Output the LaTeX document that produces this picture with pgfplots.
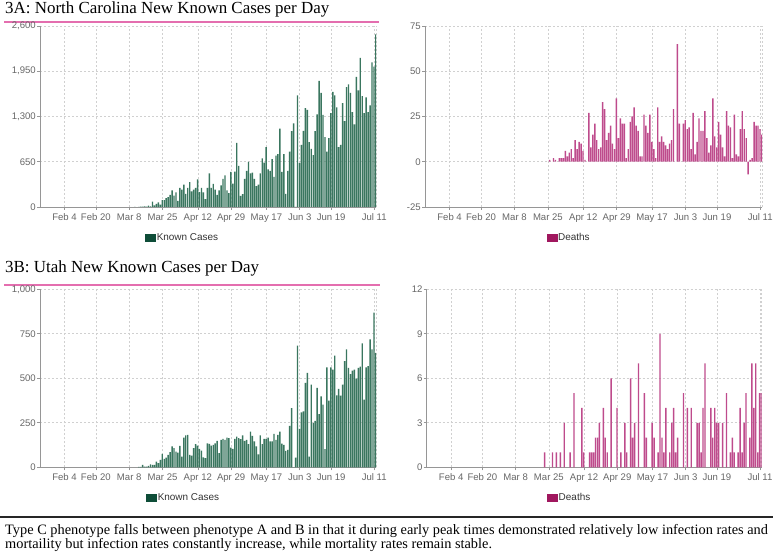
\documentclass[border=0pt]{standalone}
\usepackage{pgfplots}
\pgfplotsset{compat=1.18}
\usepackage{fontspec}
\setmainfont{Liberation Serif}
\setsansfont{Liberation Sans}
\definecolor{casebar}{RGB}{58,118,95}
\definecolor{caseleg}{RGB}{14,77,56}
\definecolor{deathbar}{RGB}{190,75,140}
\definecolor{deathleg}{RGB}{160,23,94}
\definecolor{pinkline}{RGB}{228,110,175}
\definecolor{tickgray}{RGB}{102,102,102}
\definecolor{gridgray}{RGB}{208,208,208}
\definecolor{axgray}{RGB}{150,150,150}

\pgfplotsset{
  panel/.style={
    scale only axis,
    ybar, bar width=0.72,
    enlargelimits=false,
    xmin=0.5, xmax=171.9,
    xtick={13,29,46,63,81,98,116,133,149,171},
    xticklabels={Feb 4,Feb 20,Mar 8,Mar 25,Apr 12,Apr 29,May 17,Jun 3,Jun 19,Jul 11},
    axis x line*=bottom, axis y line*=left,
    axis line style={-, draw=axgray, line width=0.8bp},
    tick pos=left, tick align=outside,
    major tick length=3bp,
    tick style={draw=axgray, line width=0.6bp},
    grid=major,
    grid style={draw=gridgray, dash pattern=on 2bp off 2bp, line width=0.6bp},
    ticklabel style={font=\sffamily\fontsize{9.6}{10}\selectfont, text=tickgray},
    yticklabel style={inner xsep=1bp},
    extra x ticks={171.9}, extra x tick labels={},
    extra x tick style={major tick length=0pt, grid=major},
    legend style={draw=none, fill=none, inner sep=0pt, anchor=center,
      font=\sffamily\fontsize{10}{11}\selectfont, text=black!80,
      nodes={inner sep=1.2bp}},
  },
  caseleg/.style={legend image code/.code={\fill[caseleg] (0bp,-3.5bp) rectangle (10bp,3.5bp);}},
  deathleg/.style={legend image code/.code={\fill[deathleg] (0bp,-3.5bp) rectangle (10bp,3.5bp);}},
}

\begin{document}
\begin{tikzpicture}[x=1bp,y=1bp]
\coordinate (PA) at (40,345);
\coordinate (PB) at (425,345);
\coordinate (PC) at (40,84.7);
\coordinate (PD) at (426.7,84.7);

% ---------- titles ----------
\node[anchor=base west, inner sep=0, font=\fontsize{17}{18}\selectfont] at (5,538.7) {3A: North Carolina New Known Cases per Day};
\fill[pinkline] (4,529.3) rectangle (379,531.3);
\node[anchor=base west, inner sep=0, font=\fontsize{17}{18}\selectfont] at (5,279.3) {3B: Utah New Known Cases per Day};
\fill[pinkline] (4,266) rectangle (380,268);

% ---------- 3A cases ----------
\begin{axis}[panel, at={(PA)}, anchor=south west, width=336bp, height=181bp,
  ymin=0, ymax=2600, ytick={0,650,1300,1950,2600},
  yticklabels={0,650,{1,300},{1,950},{2,600}},
  legend style={at={(0.4235,-0.1674)}}]
\addplot[fill=casebar, draw=none, forget plot] coordinates {
(48,1)(50,2)(51,5)(52,7)(53,10)(54,5)(55,20)(56,10)(57,78)(58,24)(59,44)(60,68)(61,34)(62,100)(63,100)(64,127)(65,140)(66,175)(67,240)(68,165)(69,210)(70,88)(71,273)(72,250)(73,322)(74,190)(75,273)(76,356)(77,224)(78,250)(79,273)(80,395)(81,215)(82,273)(83,210)(84,112)(85,273)(86,483)(87,273)(88,332)(89,250)(90,175)(91,240)(92,312)(93,405)(94,454)(95,240)(96,200)(97,503)(98,337)(99,507)(100,922)(101,590)(102,161)(103,185)(104,405)(105,517)(106,649)(107,483)(108,493)(109,405)(110,298)(111,322)(112,483)(113,698)(114,639)(115,859)(116,542)(117,517)(118,688)(119,434)(120,737)(121,761)(122,1127)(123,503)(124,761)(125,190)(126,517)(127,795)(128,1088)(129,1200)(130,0)(131,1605)(132,630)(133,893)(134,1093)(135,1420)(136,1396)(137,932)(138,834)(139,746)(140,1088)(141,1332)(142,1810)(143,1640)(144,1322)(145,1005)(146,795)(147,990)(148,1347)(149,1654)(150,1605)(151,1430)(152,859)(153,893)(154,1493)(155,1235)(156,1723)(157,1760)(158,1640)(159,1362)(160,1186)(161,1869)(162,1674)(163,2142)(164,1591)(165,1347)(166,1576)(167,1362)(168,1459)(169,2079)(170,2015)(171,2480)
};
\addlegendimage{caseleg}
\addlegendentry{Known Cases}
\end{axis}

% ---------- 3A deaths ----------
\begin{axis}[panel, at={(PB)}, anchor=south west, width=337bp, height=181bp,
  ymin=-25, ymax=75, ytick={-25,0,25,50,75},
  yticklabels={-25,0,25,50,75},
  legend style={at={(0.4264,-0.1674)}}]
\addplot[fill=deathbar, draw=none, forget plot] coordinates {
(63,1)(65,2)(66,1)(68,2)(69,2)(70,2)(71,6)(72,3)(73,5)(74,7)(75,2)(76,12)(77,7)(78,11)(79,10)(80,6)(81,1)(83,27)(84,8)(85,15)(86,21)(87,12)(88,7)(89,8)(90,33)(91,29)(92,12)(93,16)(94,20)(95,10)(96,7)(97,35)(98,13)(99,24)(100,21)(101,21)(102,2)(103,7)(104,22)(105,25)(106,30)(107,20)(108,17)(109,3)(110,3)(111,26)(112,20)(113,16)(114,26)(115,11)(116,7)(117,2)(118,30)(119,11)(120,14)(121,11)(122,9)(123,7)(124,10)(125,12)(126,29)(128,65)(129,21)(131,21)(132,23)(133,18)(134,19)(135,7)(136,27)(137,4)(138,11)(139,24)(140,17)(141,17)(142,28)(143,13)(144,5)(145,9)(146,35)(147,14)(148,8)(149,22)(150,15)(151,8)(152,3)(153,28)(154,20)(155,19)(156,2)(157,26)(158,4)(159,3)(160,18)(161,28)(162,18)(163,13)(164,-7)(165,1)(166,2)(167,22)(168,20)(169,20)(170,18)(171,15)
};
\addlegendimage{deathleg}
\addlegendentry{Deaths}
\end{axis}

% ---------- 3B cases ----------
\begin{axis}[panel, at={(PC)}, anchor=south west, width=336bp, height=178bp,
  ymin=0, ymax=1000, ytick={0,250,500,750,1000},
  yticklabels={0,250,500,750,{1,000}},
  legend style={at={(0.4265,-0.1685)}}]
\addplot[fill=casebar, draw=none, forget plot] coordinates {
(50,2)(51,3)(52,13)(53,4)(54,4)(55,8)(56,17)(57,13)(58,13)(59,32)(60,23)(61,41)(62,75)(63,47)(64,55)(65,70)(66,85)(67,117)(68,107)(69,88)(70,83)(71,120)(72,60)(73,167)(74,179)(75,182)(76,70)(77,66)(78,107)(79,130)(80,122)(81,103)(82,94)(83,56)(84,51)(85,135)(86,132)(87,122)(88,126)(89,135)(90,149)(91,79)(92,154)(93,160)(94,154)(95,167)(96,164)(97,111)(98,103)(99,160)(100,173)(101,164)(102,158)(103,179)(104,149)(105,154)(106,130)(107,201)(108,177)(109,145)(110,117)(111,73)(112,179)(113,130)(114,160)(115,160)(116,167)(117,145)(118,145)(119,188)(120,154)(121,182)(122,201)(123,133)(124,126)(125,92)(126,98)(127,233)(128,333)(129,0)(130,55)(131,684)(132,216)(133,308)(134,314)(135,474)(136,530)(137,60)(138,464)(139,248)(140,261)(141,446)(142,299)(143,399)(144,352)(145,102)(146,562)(147,374)(148,562)(149,549)(150,628)(151,404)(152,440)(153,402)(154,464)(155,596)(156,662)(157,558)(158,524)(159,543)(160,549)(161,498)(162,558)(163,566)(164,696)(165,380)(166,562)(167,568)(168,718)(169,662)(170,869)(171,643)
};
\addlegendimage{caseleg}
\addlegendentry{Known Cases}
\end{axis}

% ---------- 3B deaths ----------
\begin{axis}[panel, at={(PD)}, anchor=south west, width=335bp, height=178bp,
  ymin=0, ymax=12, ytick={0,3,6,9,12},
  yticklabels={0,3,6,9,12},
  legend style={at={(0.4257,-0.1685)}}]
\addplot[fill=deathbar, draw=none, forget plot] coordinates {
(60,1)(64,1)(66,1)(68,1)(70,3)(73,1)(75,5)(79,4)(80,1)(83,1)(84,1)(85,1)(86,2)(87,2)(88,3)(90,4)(91,2)(92,1)(94,6)(97,4)(99,1)(101,3)(102,1)(104,6)(105,2)(106,3)(108,7)(111,5)(112,2)(115,3)(116,2)(118,1)(119,9)(120,2)(121,1)(122,4)(124,1)(125,3)(126,4)(127,1)(128,2)(131,5)(133,4)(135,4)(138,3)(139,3)(140,1)(141,4)(142,7)(145,4)(146,2)(147,4)(148,3)(149,3)(151,3)(153,5)(155,1)(156,2)(157,1)(159,1)(160,4)(161,1)(162,3)(163,5)(165,2)(166,7)(167,4)(168,7)(169,1)(170,5)(171,5)
};
\addlegendimage{deathleg}
\addlegendentry{Deaths}
\end{axis}

% ---------- caption ----------
\draw[black!85, line width=1.5bp] (0,35) -- (773,35);
\node[anchor=base west, inner sep=0, font=\fontsize{14.4}{15}\selectfont] at (5,17) {Type C phenotype falls between phenotype A and B in that it during early peak times demonstrated relatively low infection rates and};
\node[anchor=base west, inner sep=0, font=\fontsize{14.4}{15}\selectfont] at (5,3) {mortaility but infection rates constantly increase, while mortality rates remain stable.};

\pgfresetboundingbox
\path[use as bounding box] (0,0) rectangle (773,552);
\end{tikzpicture}
\end{document}
